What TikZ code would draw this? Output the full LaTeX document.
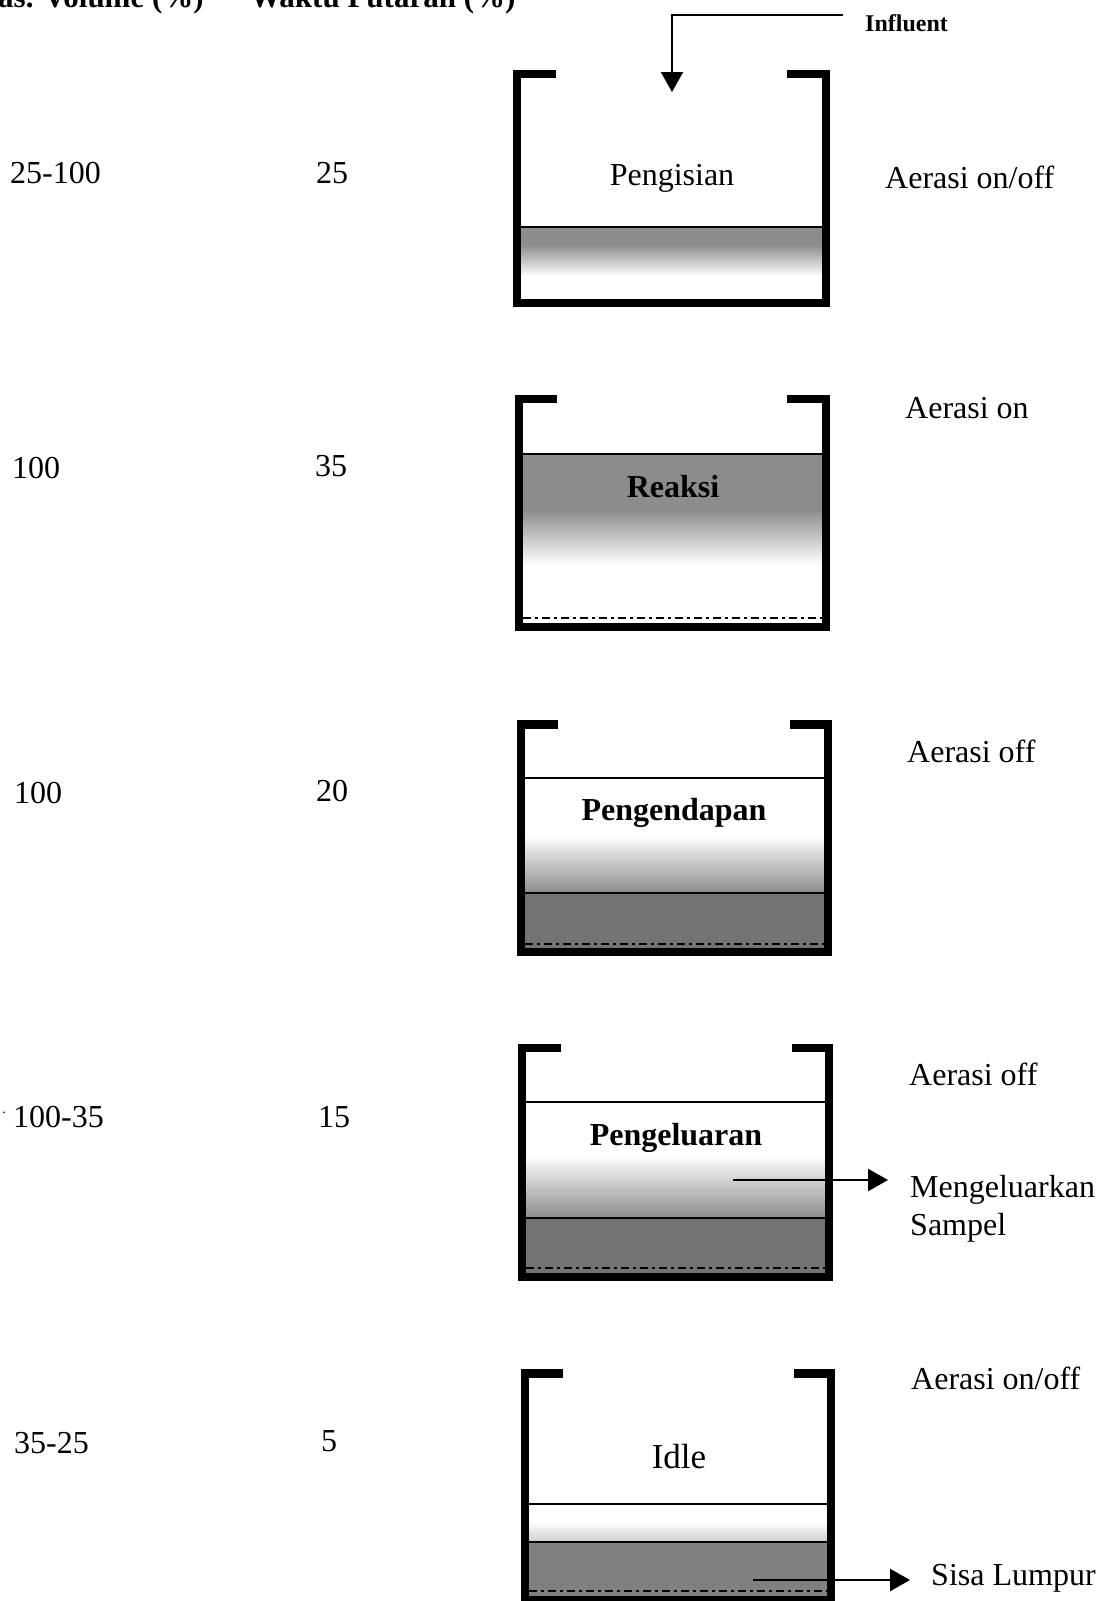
\documentclass[tikz,border=0pt]{standalone}
\usepackage{fontspec}
\setmainfont{Liberation Serif}
\usetikzlibrary{arrows.meta}
\begin{document}
\begin{tikzpicture}[x=1pt,y=-1pt,
  txt/.style={inner sep=0pt,anchor=base west,font=\fontsize{32}{38}\selectfont},
  hdr/.style={inner sep=0pt,anchor=base west,font=\fontsize{31}{36}\selectfont\bfseries},
  lbl/.style={inner sep=0pt,anchor=base,font=\fontsize{32}{38}\selectfont},
  blbl/.style={inner sep=0pt,anchor=base,font=\fontsize{32}{38}\selectfont\bfseries},
  wall/.style={line width=8.5pt,line join=miter,line cap=butt},
  level/.style={line width=2pt},
  dashbot/.style={line width=1.5pt,dash pattern=on 8pt off 4pt on 3pt off 4pt},
  arr/.style={line width=2.5pt,-{Triangle[length=20pt,width=22pt]}},
  inarr/.style={line width=2pt,-{Triangle[length=20pt,width=22pt]}}]
\useasboundingbox (0,0) rectangle (1114,1601);

% header
\node[hdr] (h1) at (-2,7) {as. Volume (\%)};
\node[hdr] (h2) at (250,7) {Waktu Putaran (\%)};

% left columns
\node[txt] (v1) at (10,183) {25-100};
\node[txt] (w1) at (316,183) {25};
\node[txt] (v2) at (12,478) {100};
\node[txt] (w2) at (315,476) {35};
\node[txt] (v3) at (14,803) {100};
\node[txt] (w3) at (316,801) {20};
\node[inner sep=0pt] (dot) at (4,1115) {\fontsize{14}{14}\selectfont ·};
\node[txt] (v4) at (13,1127) {100-35};
\node[txt] (w4) at (318,1127) {15};
\node[txt] (v5) at (14,1453) {35-25};
\node[txt] (w5) at (321,1451) {5};

% ---------- Tank 1: Pengisian
\fill[black!45] (521,227) rectangle (822,245);
\shade[top color=black!45,bottom color=white] (521,245) rectangle (822,276);
\draw[level] (521,227) -- (822,227);
\draw[wall] (556,74) -- (517,74) -- (517,303) -- (826,303) -- (826,74) -- (787,74);
\node[lbl] (t1) at (672,185) {Pengisian};
\node[inner sep=0pt,anchor=base west,font=\fontsize{24}{28}\selectfont\bfseries] (infl) at (865,31) {Influent};
\coordinate (inA) at (843,15);
\coordinate (inB) at (672,92);
\draw[inarr] (inA) -| (inB);
\node[txt] (a1) at (885,188) {Aerasi on/off};

% ---------- Tank 2: Reaksi
\fill[black!45] (523,454) rectangle (822,510);
\shade[top color=black!45,bottom color=white] (523,510) rectangle (822,565);
\draw[level] (523,454) -- (822,454);
\draw[dashbot] (523,618) -- (822,618);
\draw[wall] (557,399) -- (519,399) -- (519,627) -- (826,627) -- (826,399) -- (787,399);
\node[blbl] (t2) at (673,497) {Reaksi};
\node[txt] (a2) at (905,418) {Aerasi on};

% ---------- Tank 3: Pengendapan
\shade[top color=white,bottom color=black!45] (525,835) rectangle (824,893);
\fill[black!55] (525,893) rectangle (824,948);
\draw[level] (525,778) -- (824,778);
\draw[level] (525,893) -- (824,893);
\draw[dashbot] (525,944) -- (824,944);
\draw[wall] (558,724.5) -- (521,724.5) -- (521,952) -- (828,952) -- (828,724.5) -- (790,724.5);
\node[blbl] (t3) at (674,820) {Pengendapan};
\node[txt] (a3) at (907,762) {Aerasi off};

% ---------- Tank 4: Pengeluaran
\shade[top color=white,bottom color=black!45] (526,1155) rectangle (825,1218);
\fill[black!55] (526,1218) rectangle (825,1273);
\draw[level] (526,1102) -- (825,1102);
\draw[level] (526,1218) -- (825,1218);
\draw[dashbot] (526,1268) -- (825,1268);
\draw[wall] (561,1048) -- (522,1048) -- (522,1277) -- (829,1277) -- (829,1048) -- (792,1048);
\node[blbl] (t4) at (676,1145) {Pengeluaran};
\node[txt] (a4) at (909,1085) {Aerasi off};
\coordinate (o1) at (733,1180);
\coordinate (o1e) at (888,1180);
\draw[arr] (o1) -- (o1e);
\node[txt] (m1) at (910,1197) {Mengeluarkan};
\node[txt] (m2) at (910,1235) {Sampel};

% ---------- Tank 5: Idle
\shade[top color=white,bottom color=black!20] (529,1522) rectangle (827,1542);
\fill[black!50] (529,1542) rectangle (827,1596);
\draw[level] (529,1504) -- (827,1504);
\draw[level] (529,1542) -- (827,1542);
\draw[dashbot] (529,1591) -- (827,1591);
\draw[wall] (563,1373.5) -- (525,1373.5) -- (525,1600) -- (831,1600) -- (831,1373.5) -- (794,1373.5);
\node[inner sep=0pt,anchor=base,font=\fontsize{35}{40}\selectfont] (t5) at (679,1468) {Idle};
\node[txt] (a5) at (911,1389) {Aerasi on/off};
\coordinate (o2) at (753,1580);
\coordinate (o2e) at (910,1580);
\draw[arr] (o2) -- (o2e);
\node[txt] (s1) at (931,1585) {Sisa Lumpur};
\end{tikzpicture}
\end{document}
